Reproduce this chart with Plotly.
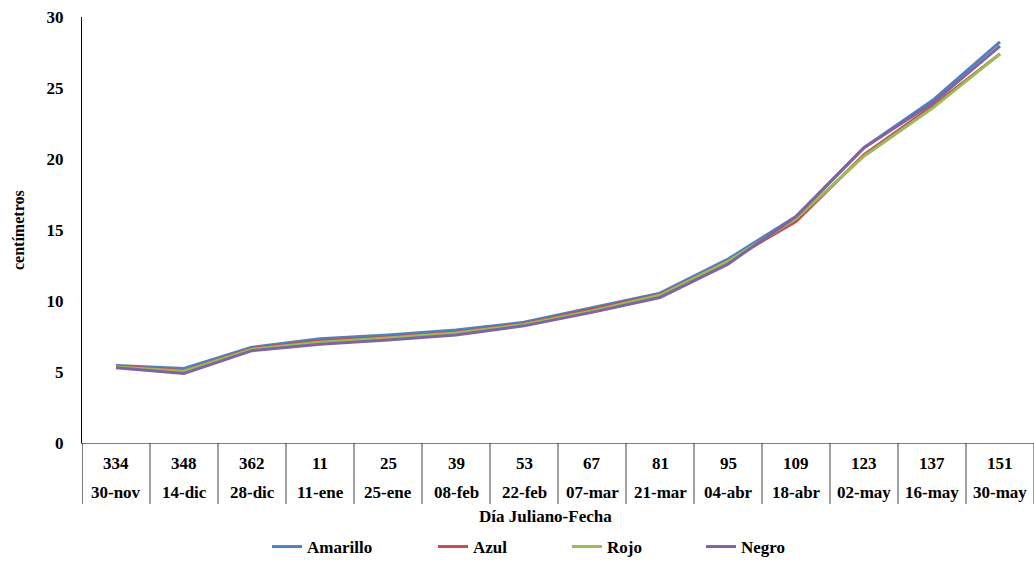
import plotly.graph_objects as go

# Julian day and calendar date for each sampling
dias_julianos = ["334", "348", "362", "11", "25", "39", "53", "67", "81", "95", "109", "123", "137", "151"]
fechas = ["30-nov", "14-dic", "28-dic", "11-ene", "25-ene", "08-feb", "22-feb", "07-mar",
          "21-mar", "04-abr", "18-abr", "02-may", "16-may", "30-may"]

# Height (cm) per treatment
amarillo = [5.45, 5.25, 6.75, 7.35, 7.60, 7.95, 8.50, 9.50, 10.55, 12.95, 15.95, 20.80, 24.10, 28.25]
azul     = [5.40, 5.10, 6.65, 7.20, 7.45, 7.80, 8.40, 9.40, 10.45, 12.80, 15.60, 20.30, 23.70, 27.40]
rojo     = [5.35, 5.05, 6.60, 7.10, 7.40, 7.75, 8.35, 9.30, 10.40, 12.80, 15.80, 20.20, 23.55, 27.40]
negro    = [5.30, 4.90, 6.50, 6.95, 7.25, 7.60, 8.25, 9.20, 10.25, 12.60, 15.95, 20.80, 23.90, 27.95]

series = [
    ("Amarillo", amarillo, "#4F81BD"),
    ("Azul", azul, "#C0504D"),
    ("Rojo", rojo, "#9BBB59"),
    ("Negro", negro, "#8064A2"),
]

FONT = "Times New Roman, Liberation Serif, DejaVu Serif, serif"
W, H = 1034, 565
ML, MR, MT, MB = 82, 0, 17, 122
PW = W - ML - MR
PH = H - MT - MB


def px_x(p):
    return (p - ML) / PW


def px_y(p):
    return (H - MB - p) / PH


fig = go.Figure()
legend_keys = ["legend", "legend2", "legend3", "legend4"]
for (name, vals, color), lk in zip(series, legend_keys):
    fig.add_trace(go.Scatter(
        x=dias_julianos, y=vals, name=name, mode="lines",
        line=dict(color=color, width=3),
        legend=lk,
    ))

# Two-row category table under the plot
annotations = []
shapes = []
for i, (dj, fe) in enumerate(zip(dias_julianos, fechas)):
    annotations.append(dict(x=i, xref="x", y=px_y(463), yref="paper", text=dj,
                            showarrow=False, yanchor="middle", xanchor="center",
                            font=dict(family=FONT, size=17, color="black", weight="bold")))
    annotations.append(dict(x=i, xref="x", y=px_y(492), yref="paper", text=fe,
                            showarrow=False, yanchor="middle", xanchor="center",
                            font=dict(family=FONT, size=17, color="black", weight="bold")))
for i in range(len(dias_julianos) + 1):
    shapes.append(dict(type="line", xref="x", yref="paper", x0=i - 0.5, x1=i - 0.5,
                       y0=0, y1=px_y(504),
                       line=dict(color="black" if i == 0 else "#404040", width=1)))

annotations.append(dict(x=px_x(545), xref="paper", y=px_y(516), yref="paper",
                        text="Día Juliano-Fecha", showarrow=False,
                        xanchor="center", yanchor="middle",
                        font=dict(family=FONT, size=17, color="black", weight="bold")))
annotations.append(dict(x=px_x(18), xref="paper", y=0.5, yref="paper",
                        text="centímetros", showarrow=False, textangle=-90,
                        xanchor="center", yanchor="middle",
                        font=dict(family=FONT, size=16, color="black", weight="bold")))

legend_font = dict(family=FONT, size=17, color="black", weight="bold")
line_starts = [272, 438, 572, 706]
legend_layout = {}
for lk, xs in zip(legend_keys, line_starts):
    legend_layout[lk] = dict(
        x=px_x(xs - 5), xanchor="left", y=px_y(547), yanchor="middle",
        orientation="h", font=legend_font, bgcolor="rgba(0,0,0,0)",
        borderwidth=0, itemwidth=30,
    )

fig.update_layout(
    width=W, height=H,
    margin=dict(l=ML, r=MR, t=MT, b=MB),
    paper_bgcolor="white", plot_bgcolor="white",
    showlegend=True,
    font=dict(family=FONT),
    xaxis=dict(type="category", categoryorder="array", categoryarray=dias_julianos,
               range=[-0.5, len(dias_julianos) - 0.5], showticklabels=False,
               showgrid=False, zeroline=False, showline=True, linecolor="#808080",
               linewidth=1, ticks=""),
    yaxis=dict(range=[0, 30], dtick=5, showgrid=False, zeroline=False,
               showline=True, linecolor="black", linewidth=1, ticks="",
               ticklabelstandoff=14,
               tickfont=dict(family=FONT, size=17, color="black", weight="bold")),
    annotations=annotations,
    shapes=shapes,
    **legend_layout,
)

fig.write_html("out.html")
